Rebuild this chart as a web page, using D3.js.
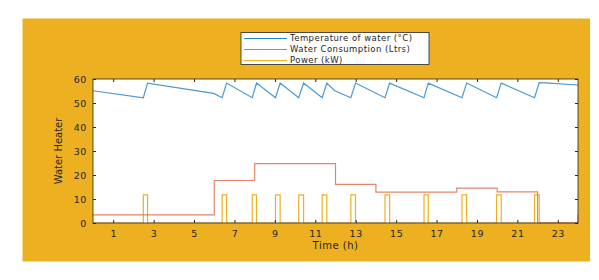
<!DOCTYPE html>
<html>
<head>
<meta charset="utf-8">
<script src="https://cdn.jsdelivr.net/npm/d3@7"></script>
<style>
  html, body { margin: 0; padding: 0; background: #fff; }
  text { font-family: "DejaVu Sans", "Liberation Sans", sans-serif; fill: #262626; }
</style>
</head>
<body>
<div id="chart"></div>
<script>
// temperature of water (°C)
const tempTime  = [0, 2.49, 2.7, 5.97, 6.39, 6.61, 7.88, 8.09, 9.03, 9.26, 10.18, 10.42, 11.34, 11.57, 11.96, 12.76, 12.99, 14.45, 14.68, 16.38, 16.59, 18.26, 18.49, 19.97, 20.2, 21.85, 22.08, 22.6, 24];
const tempValue = [55.1, 52.2, 58.3, 54, 52.2, 58.3, 52.2, 58.3, 52.2, 58.3, 52.2, 58.3, 52.2, 58.3, 55.1, 52.2, 58.3, 52.2, 58.3, 52.2, 58.3, 52.2, 58.3, 52.2, 58.3, 52.2, 58.5, 58.3, 57.5];

// water consumption (Ltrs), step changes
const consTime  = [0, 6, 8, 12, 14, 18, 20, 22, 24];
const consValue = [3.4, 17.7, 24.7, 16.1, 12.9, 14.5, 13, 0, 3.4];

// heater power (kW) pulses
const powerOn   = [2.49, 6.39, 7.88, 9.03, 10.18, 11.34, 12.76, 14.45, 16.38, 18.26, 19.97, 21.85];
const powerOff  = [2.7, 6.61, 8.09, 9.26, 10.42, 11.57, 12.99, 14.68, 16.59, 18.49, 20.2, 22.08];
const powerLevel = 11.7;

const xTicks = [1, 3, 5, 7, 9, 11, 13, 15, 17, 19, 21, 23];
const yTicks = [0, 10, 20, 30, 40, 50, 60];

const legendNames = ["Temperature of water (°C)", "Water Consumption (Ltrs)", "Power (kW)"];
const colors = ["#2a86cc", "#e07050", "#edb120"];

const W = 599, H = 280;
const svg = d3.select("#chart").append("svg")
  .attr("width", W).attr("height", H);

// figure background
svg.append("rect")
  .attr("x", 22.5).attr("y", 18.5).attr("width", 567.5).attr("height", 243)
  .attr("fill", "#ecb021");

const x = d3.scaleLinear().domain([0, 24]).range([93, 578]);
const y = d3.scaleLinear().domain([0, 60]).range([223, 79]);

// axes area
svg.append("rect")
  .attr("x", x(0)).attr("y", y(60))
  .attr("width", x(24) - x(0)).attr("height", y(0) - y(60))
  .attr("fill", "#fff");

svg.append("clipPath").attr("id", "clip")
  .append("rect")
  .attr("x", x(0)).attr("y", y(60) - 1)
  .attr("width", x(24) - x(0) + 1).attr("height", y(0) - y(60) + 2);

const plot = svg.append("g").attr("clip-path", "url(#clip)");

const line = d3.line().x(d => x(d[0])).y(d => y(d[1]));

// power pulses
const powerPts = [[0, 0]];
powerOn.forEach((s, i) => {
  powerPts.push([s, 0], [s, powerLevel], [powerOff[i], powerLevel], [powerOff[i], 0]);
});
powerPts.push([24, 0]);

plot.append("path")
  .datum(powerPts)
  .attr("d", line)
  .attr("fill", "none")
  .attr("stroke", colors[2])
  .attr("stroke-width", 1.2);

// consumption
plot.append("path")
  .datum(consTime.map((t, i) => [t, consValue[i]]))
  .attr("d", line.curve(d3.curveStepAfter))
  .attr("fill", "none")
  .attr("stroke", colors[1])
  .attr("stroke-opacity", 0.85)
  .attr("stroke-width", 1.2);
line.curve(d3.curveLinear);

// temperature
plot.append("path")
  .datum(tempTime.map((t, i) => [t, tempValue[i]]))
  .attr("d", line)
  .attr("fill", "none")
  .attr("stroke", colors[0])
  .attr("stroke-opacity", 0.85)
  .attr("stroke-width", 1.2);

// axes (box with inward ticks, matlab style)
const axisColor = "#262626";
const styleAxis = g => {
  g.select(".domain").remove();
  g.selectAll(".tick line").attr("stroke", axisColor);
  g.selectAll(".tick text").attr("fill", axisColor)
    .style("font-size", "9.5px").style("letter-spacing", "0.6px");
};

svg.append("g")
  .attr("transform", `translate(0,${y(0)})`)
  .call(d3.axisBottom(x).tickValues(xTicks).tickSize(-3).tickPadding(7))
  .call(styleAxis);
svg.append("g")
  .attr("transform", `translate(0,${y(60)})`)
  .call(d3.axisTop(x).tickValues(xTicks).tickSize(-3).tickFormat(""))
  .call(styleAxis);
svg.append("g")
  .attr("transform", `translate(${x(0)},0)`)
  .call(d3.axisLeft(y).tickValues(yTicks).tickSize(-3).tickPadding(6))
  .call(styleAxis);
svg.append("g")
  .attr("transform", `translate(${x(24)},0)`)
  .call(d3.axisRight(y).tickValues(yTicks).tickSize(-3).tickFormat(""))
  .call(styleAxis);

svg.append("rect")
  .attr("x", x(0)).attr("y", y(60))
  .attr("width", x(24) - x(0)).attr("height", y(0) - y(60))
  .attr("fill", "none").attr("stroke", axisColor).attr("stroke-width", 0.8);

// axis titles
svg.append("text")
  .attr("x", (x(0) + x(24)) / 2).attr("y", 249)
  .attr("text-anchor", "middle")
  .style("font-size", "10px").style("letter-spacing", "0.5px")
  .text("Time (h)");

svg.append("text")
  .attr("transform", `translate(62,${(y(0) + y(60)) / 2}) rotate(-90)`)
  .attr("text-anchor", "middle")
  .style("font-size", "10px")
  .text("Water Heater");

// legend
const lg = svg.append("g");
lg.append("rect")
  .attr("x", 241).attr("y", 32.5).attr("width", 188).attr("height", 32)
  .attr("fill", "#fff").attr("stroke", axisColor).attr("stroke-width", 0.8);

legendNames.forEach((name, i) => {
  const ly = 38.5 + i * 11;
  lg.append("line")
    .attr("x1", 244).attr("x2", 287).attr("y1", ly).attr("y2", ly)
    .attr("stroke", colors[i]).attr("stroke-width", 1.2);
  lg.append("text")
    .attr("x", 290).attr("y", ly).attr("dy", "0.35em")
    .style("font-size", "8.5px").style("letter-spacing", "0.45px")
    .text(name);
});
</script>
</body>
</html>
